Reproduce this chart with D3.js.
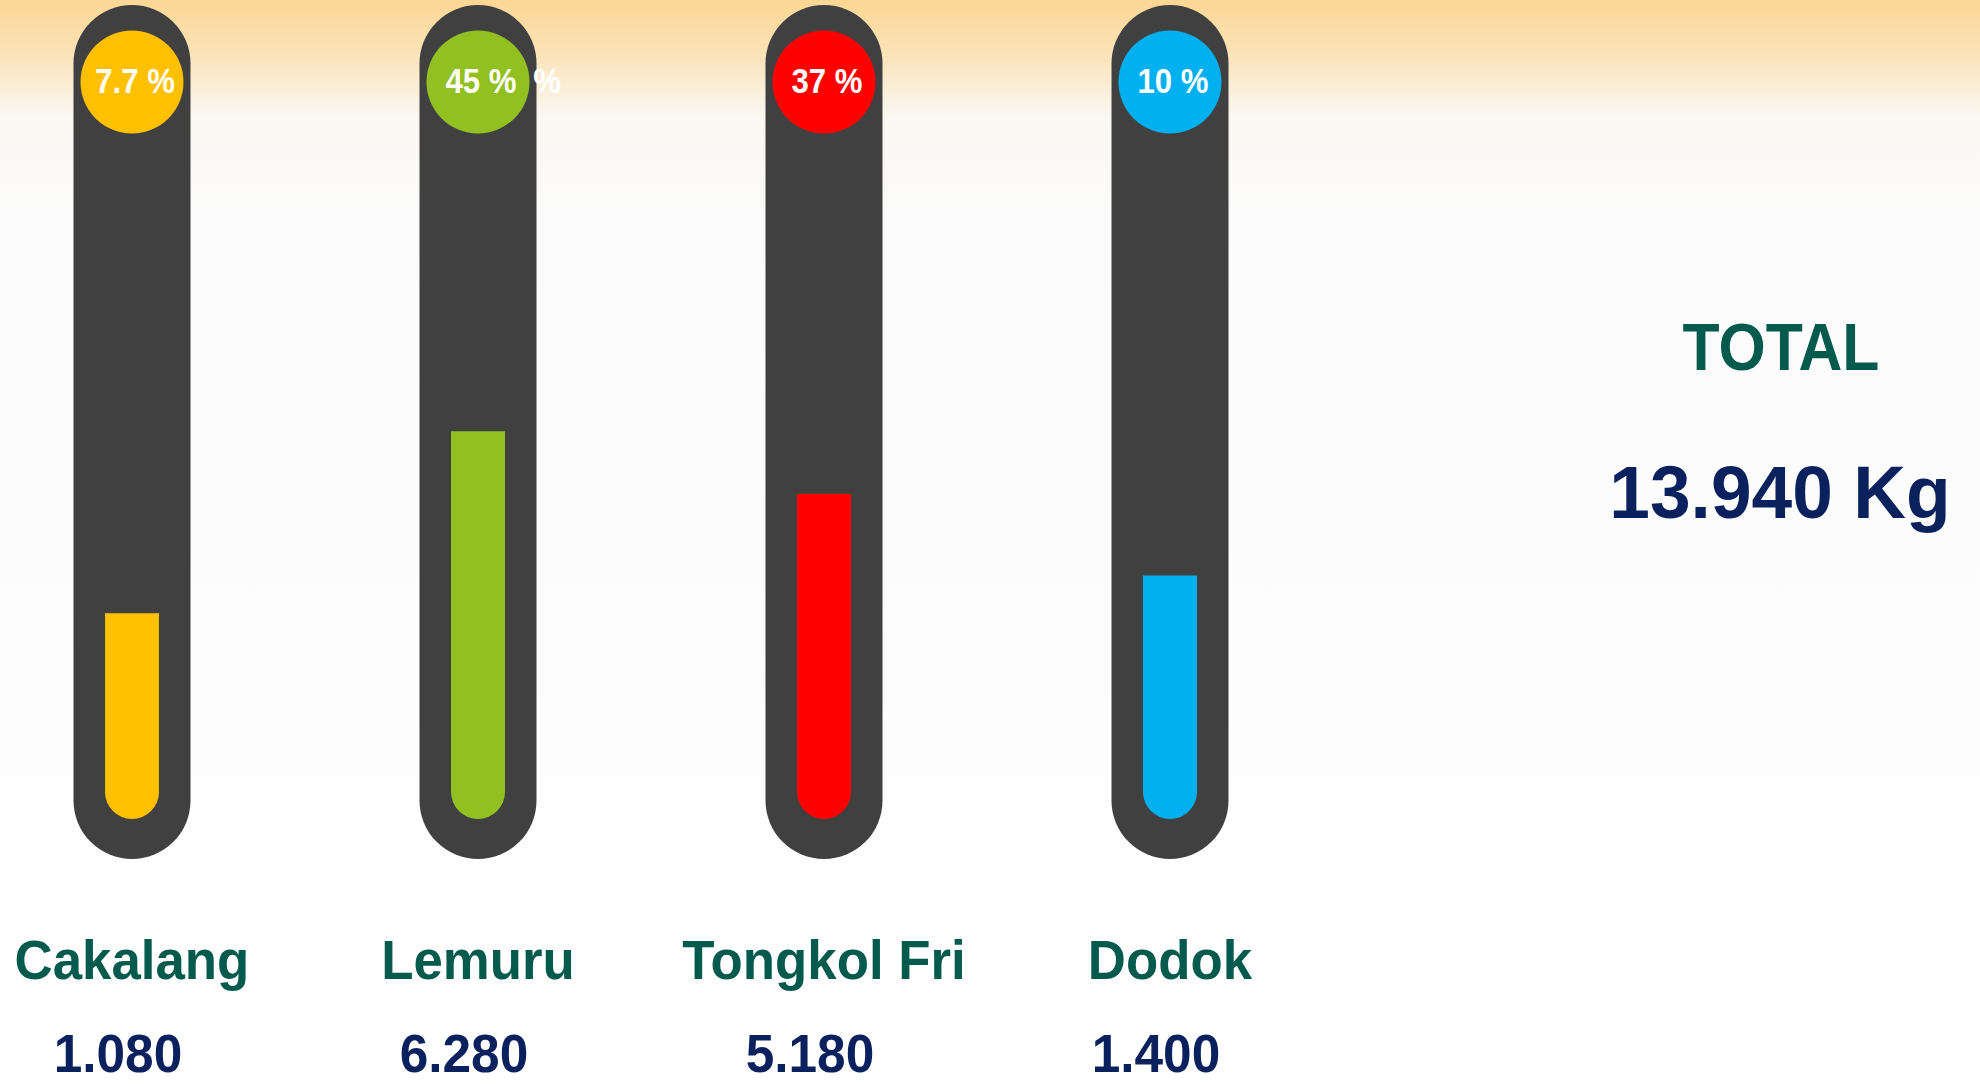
<!DOCTYPE html>
<html>
<head>
<meta charset="utf-8">
<script src="https://cdn.jsdelivr.net/npm/d3@7"></script>
<style>
  html, body { margin: 0; padding: 0; background: #ffffff; }
  svg { display: block; }
  text { font-family: "Liberation Sans", Arial, sans-serif; font-weight: bold; }
</style>
</head>
<body>
<div id="chart"></div>
<script>
// ---- data ----
const categories = ["Cakalang", "Lemuru", "Tongkol Fri", "Dodok"];
const weightsKg = [1080, 6280, 5180, 1400];
const pctLabels = ["7.7 %", "45 %", "37 %", "10 %"];
const fillLevels = [24.1, 45.4, 38.1, 28.5];   // liquid level, % of tube height
const colors = ["#FFC000", "#92C020", "#FF0000", "#00B0F0"];
const totalTitle = "TOTAL";
const unit = "Kg";

// ---- layout ----
const W = 1980, H = 1084;
const tubeW = 117, tubeTop = 5, tubeBottom = 859;
const fillW = 54, fillBottom = 819;
const bulbR = 51.5, bulbCy = 82;

const svg = d3.select("#chart").append("svg")
  .attr("width", W).attr("height", H);

const defs = svg.append("defs");
const grad = defs.append("linearGradient").attr("id", "bg")
  .attr("x1", 0).attr("y1", 0).attr("x2", 0).attr("y2", 1);
grad.append("stop").attr("offset", 0).attr("stop-color", "#FCD794");
grad.append("stop").attr("offset", 0.05).attr("stop-color", "#FBE3B9");
grad.append("stop").attr("offset", 0.108).attr("stop-color", "#FAF8F2");
grad.append("stop").attr("offset", 0.2).attr("stop-color", "#FBFBFB");
grad.append("stop").attr("offset", 1).attr("stop-color", "#FFFFFF");
svg.append("rect").attr("width", W).attr("height", H).attr("fill", "url(#bg)");

const x = d3.scalePoint().domain(categories).range([132, 1170]);
const y = d3.scaleLinear().domain([0, 100]).range([fillBottom, fillBottom - (tubeBottom - tubeTop)]);

const fmt = d3.formatLocale({ decimal: ",", thousands: ".", grouping: [3], currency: ["", ""] }).format(",.0f");

const rows = categories.map((c, i) => ({
  cat: c, kg: weightsKg[i], pct: pctLabels[i], level: fillLevels[i], color: colors[i]
}));

const g = svg.append("g");

// tubes
g.selectAll("rect.tube").data(rows).join("rect")
  .attr("class", "tube")
  .attr("x", d => x(d.cat) - tubeW / 2)
  .attr("y", tubeTop)
  .attr("width", tubeW)
  .attr("height", tubeBottom - tubeTop)
  .attr("rx", tubeW / 2).attr("ry", tubeW / 2)
  .attr("fill", "#404040");

// liquid fill with rounded bottom
const r = fillW / 2;
g.selectAll("path.fill").data(rows).join("path")
  .attr("class", "fill")
  .attr("fill", d => d.color)
  .attr("d", d => {
    const x0 = x(d.cat) - fillW / 2, x1 = x0 + fillW;
    const top = y(d.level), bot = fillBottom;
    return `M${x0},${top}H${x1}V${bot - r}A${r},${r} 0 0 1 ${x0},${bot - r}Z`;
  });

// bulbs
g.selectAll("circle.bulb").data(rows).join("circle")
  .attr("class", "bulb")
  .attr("cx", d => x(d.cat))
  .attr("cy", bulbCy)
  .attr("r", bulbR)
  .attr("fill", d => d.color);

function squeeze(sel, f) {
  sel.each(function () {
    const L = this.getComputedTextLength();
    d3.select(this).attr("textLength", L * f).attr("lengthAdjust", "spacingAndGlyphs");
  });
}

// percent labels
g.selectAll("text.pct").data(rows).join("text")
  .attr("class", "pct")
  .attr("x", d => x(d.cat) + 3)
  .attr("y", bulbCy + 11)
  .attr("text-anchor", "middle")
  .attr("font-size", 35)
  .attr("fill", "#FFFFFF")
  .text(d => d.pct)
  .call(squeeze, 0.89);

// faint duplicate "%" visible beside the Lemuru bulb
g.append("text")
  .attr("x", x(categories[1]) + 69)
  .attr("y", bulbCy + 11)
  .attr("text-anchor", "middle")
  .attr("font-size", 35)
  .attr("fill", "#FFFFFF")
  .text("%")
  .call(squeeze, 0.89);

// category names
g.selectAll("text.cat").data(rows).join("text")
  .attr("class", "cat")
  .attr("x", d => x(d.cat))
  .attr("y", 979)
  .attr("text-anchor", "middle")
  .attr("font-size", 55)
  .attr("fill", "#045A4C")
  .text(d => d.cat)
  .call(squeeze, 0.96);

// values
g.selectAll("text.val").data(rows).join("text")
  .attr("class", "val")
  .attr("x", d => x(d.cat) - 14)
  .attr("y", 1072)
  .attr("text-anchor", "middle")
  .attr("font-size", 53)
  .attr("fill", "#0A215E")
  .text(d => fmt(d.kg))
  .call(squeeze, 0.97);

// total
const total = d3.sum(weightsKg);
svg.append("text")
  .attr("x", 1781).attr("y", 370)
  .attr("text-anchor", "middle")
  .attr("font-size", 66)
  .attr("fill", "#045A4C")
  .text(totalTitle)
  .call(squeeze, 0.92);

svg.append("text")
  .attr("x", 1780).attr("y", 518)
  .attr("text-anchor", "middle")
  .attr("font-size", 75)
  .attr("fill", "#0A215E")
  .text(`${fmt(total)} ${unit}`)
  .call(squeeze, 0.975);
</script>
</body>
</html>
